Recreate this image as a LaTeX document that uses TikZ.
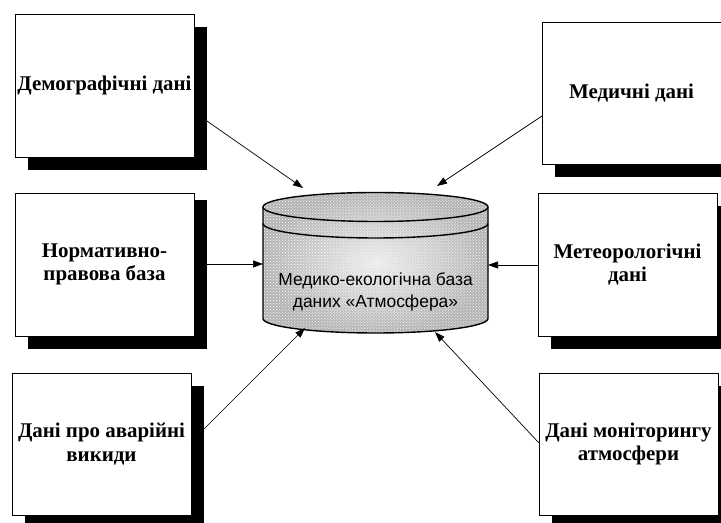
\documentclass[tikz,border=0pt]{standalone}
\usepackage{fontspec}
\setmainfont{Liberation Serif}
\newfontfamily\arialfont{Liberation Sans}
\usetikzlibrary{arrows.meta,shadows,patterns}
\begin{document}
\begin{tikzpicture}[x=1bp,y=1bp,
  srcbox/.style={draw=black, line width=0.9bp, fill=white, minimum width=179bp, minimum height=143bp,
    inner sep=0pt, align=center, font=\fontsize{21}{23.5}\selectfont\bfseries,
    general shadow={fill=black, shadow xshift=13bp, shadow yshift=-13bp}},
  conn/.style={draw=black, line width=0.7bp, -{Triangle[length=10bp,width=7bp]}},
  dbline/.style={draw=black, line width=1.4bp}
]
\useasboundingbox (0,0) rectangle (721,523);

% source boxes
\node[srcbox] (b1) at (104.5,437.5) {Демографічні дані};
\node[srcbox] (b2) at (104.5,258.5) {Нормативно-\\правова база};
\node[srcbox, minimum height=142bp] (b3) at (101.5,79) {Дані про аварійні\\викиди};
\node[srcbox, minimum height=142bp] (b4) at (631.5,430) {Медичні дані};
\node[srcbox] (b5) at (627.5,258.5) {Метеорологічні\\дані};
\node[srcbox, minimum height=142bp] (b6) at (628.5,79) {Дані моніторингу\\атмосфери};

% database cylinder
\path[inner color=gray!15, outer color=gray!60]
  (263,316) -- (263,204.5) arc[start angle=180,end angle=360,x radius=112.5,y radius=14.5]
  -- (488,316) arc[start angle=0,end angle=180,x radius=112.5,y radius=14.5] -- cycle;
\path[pattern=crosshatch dots, pattern color=white]
  (263,316) -- (263,204.5) arc[start angle=180,end angle=360,x radius=112.5,y radius=14.5]
  -- (488,316) arc[start angle=0,end angle=180,x radius=112.5,y radius=14.5] -- cycle;
\draw[dbline]
  (263,316) -- (263,204.5) arc[start angle=180,end angle=360,x radius=112.5,y radius=14.5]
  -- (488,316) arc[start angle=0,end angle=180,x radius=112.5,y radius=14.5] -- cycle;
\draw[dbline] (263,316) arc[start angle=180,end angle=360,x radius=112.5,y radius=14.5];
\draw[dbline] (263,299.5) arc[start angle=180,end angle=360,x radius=112.5,y radius=14.5];
\node[align=center, inner sep=0pt, font=\arialfont\fontsize{17.5}{21.5}\selectfont] (db) at (375.5,231)
  {Медико-екологічна база\\даних «Атмосфера»};

% connector end points
\coordinate (s1) at (194,411);
\coordinate (t1) at (303,335);
\coordinate (s2) at (194,259);
\coordinate (t2) at (263,259);
\coordinate (s3) at (191,81);
\coordinate (t3) at (305,195);
\coordinate (s4) at (542,407);
\coordinate (t4) at (437,337);
\coordinate (s5) at (538,258);
\coordinate (t5) at (488,258);
\coordinate (s6) at (539,80);
\coordinate (t6) at (435,191);

\draw[conn] (s1) -- (t1);
\draw[conn] (s2) -- (t2);
\draw[conn] (s3) -- (t3);
\draw[conn] (s4) -- (t4);
\draw[conn] (s5) -- (t5);
\draw[conn] (s6) -- (t6);

% shadows of the left boxes cover the start of their connectors
\fill[black] (194,424) rectangle (207,381.5);
\fill[black] (194,323) rectangle (207,251.5);
\fill[black] (191,137) rectangle (203,0);
\end{tikzpicture}
\end{document}
